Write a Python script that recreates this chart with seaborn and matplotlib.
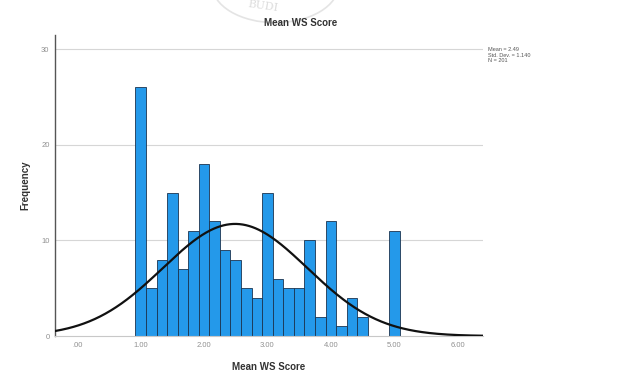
import numpy as np
import pandas as pd
import matplotlib
matplotlib.use("Agg")
import matplotlib.pyplot as plt
import seaborn as sns

# Mean WS score values (steps of 1/6) and how many respondents had each
score_values = [1 + k / 6 for k in range(22)] + [5.0]
score_counts = [26, 5, 8, 15, 7, 11,
                18, 12, 9, 8, 5, 4,
                15, 6, 5, 5, 10, 2,
                12, 1, 4, 2,
                11]

stat_mean = 2.49
stat_sd = 1.140
stat_n = 201

x_ticks = [0, 1, 2, 3, 4, 5, 6]
x_tick_labels = [".00", "1.00", "2.00", "3.00", "4.00", "5.00", "6.00"]
y_ticks = [0, 10, 20, 30]

df = pd.DataFrame({"score": score_values, "count": score_counts})

sns.set_style("white")
plt.rcParams["font.family"] = ["Liberation Sans", "DejaVu Sans"]

fig = plt.figure(figsize=(6.33, 3.78), dpi=100)
ax = fig.add_axes([0.087, 0.111, 0.676, 0.797])

bin_w = 1 / 6
for y in y_ticks[1:]:
    ax.axhline(y, color="#d6d6d6", lw=0.8, zorder=0)

sns.histplot(data=df, x="score", weights="count", binwidth=bin_w,
             binrange=(1 - bin_w / 2, 5 + bin_w / 2), ax=ax,
             color="#2499ea", alpha=1, edgecolor="#1b3450", linewidth=0.6,
             zorder=2)

# Normal curve scaled to the histogram
xs = np.linspace(-0.35, 6.4, 400)
pdf = np.exp(-0.5 * ((xs - stat_mean) / stat_sd) ** 2) / (stat_sd * np.sqrt(2 * np.pi))
curve = pd.DataFrame({"x": xs, "y": stat_n * bin_w * pdf})
sns.lineplot(data=curve, x="x", y="y", ax=ax, color="#111111", lw=1.6, zorder=3)

ax.set_xlim(-0.35, 6.4)
ax.set_ylim(0, 31.5)
ax.set_xticks(x_ticks)
ax.set_xticklabels(x_tick_labels)
ax.set_yticks(y_ticks)
ax.tick_params(axis="both", labelsize=5.5, colors="#909090", length=0, pad=4)

for side in ["top", "right"]:
    ax.spines[side].set_visible(False)
ax.spines["left"].set_color("#555555")
ax.spines["bottom"].set_color("#c8c8c8")
ax.spines["left"].set_linewidth(1.0)

ax.set_xlabel("Mean WS Score", fontsize=7, fontweight="bold", color="#333333", labelpad=10)
ax.set_ylabel("Frequency", fontsize=7, fontweight="bold", color="#333333", labelpad=8)
fig.text(0.475, 0.94, "Mean WS Score", ha="center", va="center",
         fontsize=7, fontweight="bold", color="#333333")

fig.text(0.771, 0.875,
         f"Mean = {stat_mean:.2f}\nStd. Dev. = {stat_sd:.3f}\nN = {stat_n}",
         ha="left", va="top", fontsize=4, color="#555555", linespacing=1.1)

# faint seal at the top of the page
seal = plt.Circle((0.435, 1.04), 0.1, transform=fig.transFigure, fill=False,
                  edgecolor="#e4e4e4", lw=1.2)
fig.add_artist(seal)
fig.text(0.415, 0.985, "BUDI", ha="center", va="center", fontsize=8,
         color="#dddddd", family="DejaVu Serif", rotation=-8)

fig.savefig("out.png", dpi=100)
